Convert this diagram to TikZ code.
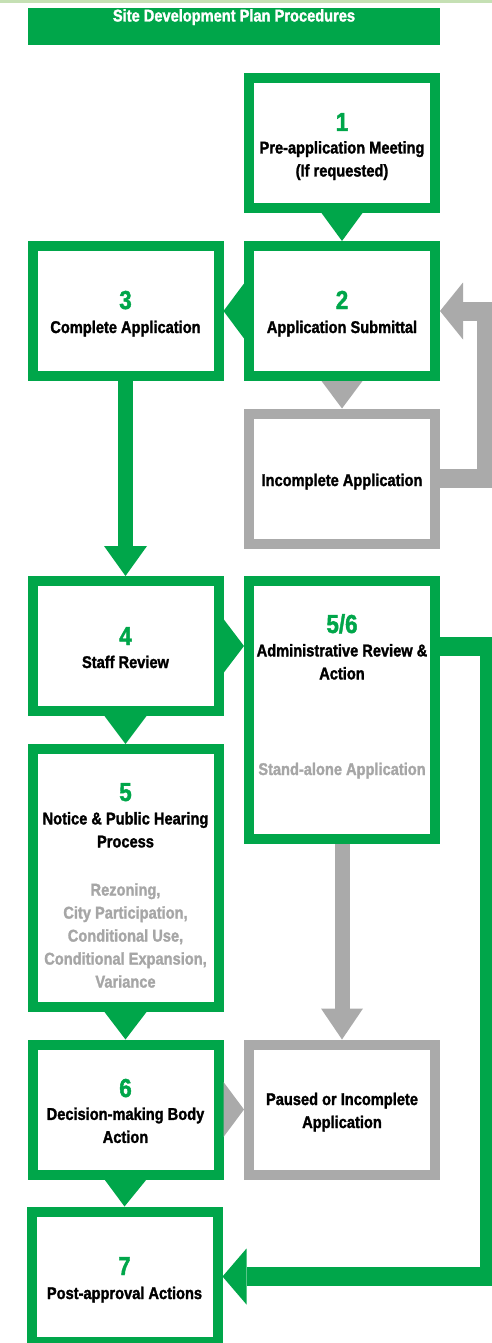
\documentclass[tikz,border=0pt]{standalone}
\usepackage{fontspec}
\setmainfont[FakeStretch=0.86, BoldFeatures={FakeBold=1.6}]{Liberation Sans}
\usetikzlibrary{calc}
\definecolor{G}{RGB}{0,166,74}
\definecolor{Gr}{RGB}{170,170,170}
\definecolor{GrT}{RGB}{166,166,166}
\definecolor{LG}{RGB}{197,224,180}
\begin{document}
\begin{tikzpicture}[x=1pt,y=-1pt,
  box/.style={draw=G, line width=10pt, minimum width=186pt, minimum height=130pt, inner sep=0pt, outer sep=5pt},
  gbox/.style={box, draw=Gr},
  num/.style={text=G, anchor=base, inner sep=0pt, font=\fontsize{26}{26}\selectfont\bfseries},
  lbl/.style={text=black, inner sep=0pt, align=center, font=\fontsize{17}{23}\selectfont\bfseries},
  glbl/.style={lbl, text=GrT},
  gtri/.style={fill=G},
  ytri/.style={fill=Gr}]
\useasboundingbox (0,0) rectangle (492,1343);
\fill[LG] (0,0) rectangle (492,3);
\node[fill=G, minimum width=412pt, minimum height=37pt, inner sep=0pt] (banner) at (234,26.5) {};
\node[lbl, text=white, anchor=base] (title) at (234,21.5) {Site Development Plan Procedures};

% boxes
\node[box] (b1) at (342,143) {};
\node[box] (b2) at (342,311) {};
\node[box] (b3) at (125.5,311) {};
\node[gbox] (inc) at (342,478.5) {};
\node[box] (b4) at (125.5,646) {};
\node[box, minimum height=258pt] (b56) at (342,710) {};
\node[box, minimum height=258pt] (b5) at (125.5,878) {};
\node[box] (b6) at (125.5,1109.5) {};
\node[gbox] (pa) at (342,1109.5) {};
\node[box] (b7) at (124.5,1276.5) {};

% texts
\node[num] (n1) at (342,131) {1};
\node[lbl] (t1) at (342,160.6) {Pre-application Meeting\\(If requested)};
\node[num] (n2) at (342,309) {2};
\node[lbl, anchor=base] (t2) at (342,333) {Application Submittal};
\node[num] (n3) at (125.5,309) {3};
\node[lbl, anchor=base] (t3) at (125.5,333) {Complete Application};
\node[lbl, anchor=base] (tinc) at (342,486) {Incomplete Application};
\node[num] (n4) at (125.5,645) {4};
\node[lbl, anchor=base] (t4) at (125.5,668) {Staff Review};
\node[num] (n56) at (342,633) {5/6};
\node[lbl] (t56) at (342,661.8) {Administrative Review \&\\Action};
\node[glbl, anchor=base] (tsa) at (342,775) {Stand-alone Application};
\node[num] (n5) at (125.5,801) {5};
\node[lbl] (t5) at (125.5,829.8) {Notice \& Public Hearing\\Process};
\node[glbl] (t5g) at (125.5,935.5) {Rezoning,\\City Participation,\\Conditional Use,\\Conditional Expansion,\\Variance};
\node[num] (n6) at (125.5,1097) {6};
\node[lbl] (t6) at (125.5,1125.3) {Decision-making Body\\Action};
\node[lbl] (tp) at (342,1112.1) {Paused or Incomplete\\Application};
\node[num] (n7) at (124.5,1275) {7};
\node[lbl, anchor=base] (t7) at (124.5,1299) {Post-approval Actions};

% triangle connectors
\fill[gtri] ($(b1.south)+(-20.5,0)$) -- ($(b1.south)+(20.5,0)$) -- (b2.north) -- cycle;
\fill[gtri] ($(b2.west)+(0,-27.5)$) -- ($(b2.west)+(0,27.5)$) -- (b3.east) -- cycle;
\fill[ytri] ($(b2.south)+(-20.5,0)$) -- ($(b2.south)+(20.5,0)$) -- (inc.north) -- cycle;
\fill[gtri] ($(b4.east)+(0,-27)$) -- ($(b4.east)+(0,27)$) -- (b56.west |- b4.east) -- cycle;
\fill[gtri] ($(b4.south)+(-21,0)$) -- ($(b4.south)+(21,0)$) -- (b5.north) -- cycle;
\fill[gtri] ($(b5.south)+(-21,0)$) -- ($(b5.south)+(21,0)$) -- (b6.north) -- cycle;
\fill[ytri] ($(b6.east)+(0,-27.5)$) -- ($(b6.east)+(0,27.5)$) -- (pa.west) -- cycle;
\fill[gtri] ($(b6.south)+(-21,0)$) -- ($(b6.south)+(21,0)$) -- (b7.north) -- cycle;

% thick arrows
\draw[G, line width=15pt] (b3.south) -- ($(b4.north)+(0,-30)$);
\fill[G] ($(b4.north)+(-21.5,-30)$) -- ($(b4.north)+(21.5,-30)$) -- (b4.north) -- cycle;
\draw[Gr, line width=15pt] (b56.south) -- ($(pa.north)+(0,-31)$);
\fill[Gr] ($(pa.north)+(-21,-31)$) -- ($(pa.north)+(21,-31)$) -- (pa.north) -- cycle;
\draw[Gr, line width=19pt] (inc.east) -- ++(46.5,0) |- ($(b2.east)+(23,0)$);
\fill[Gr] ($(b2.east)+(23,-28.5)$) -- ($(b2.east)+(23,28.5)$) -- (b2.east) -- cycle;
\draw[G, line width=19pt] (b56.east |- b4.east) -- ++(49.5,0) |- ($(b7.east)+(24,0)$);
\fill[G] ($(b7.east)+(24,-28)$) -- ($(b7.east)+(24,28)$) -- (b7.east) -- cycle;
\end{tikzpicture}
\end{document}
